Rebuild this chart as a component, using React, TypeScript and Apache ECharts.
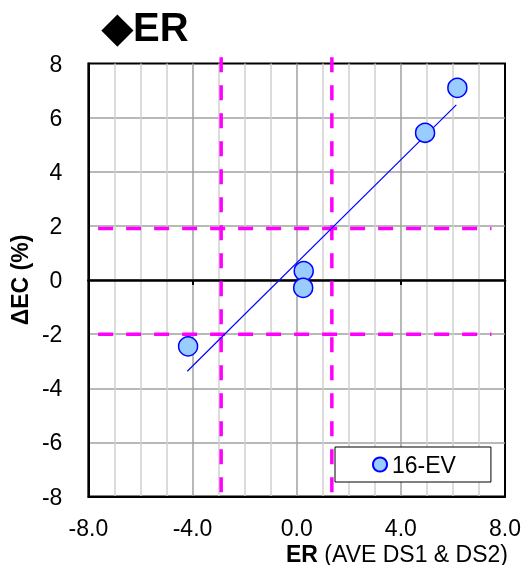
import React, { useEffect, useRef } from "react";
import * as echarts from "echarts";

const seriesName = "16-EV";
const pointsX = [6.17, 4.93, 0.27, 0.25, -4.17];
const pointsY = [7.1, 5.44, 0.33, -0.29, -2.45];
const trendX = [-4.2, 6.13];
const trendY = [-3.37, 6.47];
const thresholdX = [-2.9, 1.35];
const thresholdY = [1.9, -2.0];
const hLineSpanX = [-8.7, 7.48];
const vLineSpanY = [8.23, -8.17];
const axisMin = -8;
const axisMax = 8;

const FONT = "'Liberation Sans', Arial, sans-serif";

export default function App() {
  const ref = useRef<HTMLDivElement>(null);

  useEffect(() => {
    if (!ref.current) return;
    const chart = echarts.init(ref.current, undefined, { renderer: "svg" });

    const dashStyle = { color: "#ff00ff", width: 3.5, type: [15, 13] as any };
    const threshSeries: any[] = [];
    thresholdX.forEach((x, i) => {
      threshSeries.push({
        type: "line",
        name: "vline" + i,
        data: [[x, vLineSpanY[0]], [x, vLineSpanY[1]]],
        showSymbol: false,
        symbol: "none",
        clip: false,
        lineStyle: dashStyle,
        silent: true,
        z: 3,
      });
    });
    thresholdY.forEach((y, i) => {
      threshSeries.push({
        type: "line",
        name: "hline" + i,
        data: [[hLineSpanX[0], y], [hLineSpanX[1], y]],
        showSymbol: false,
        symbol: "none",
        clip: false,
        lineStyle: dashStyle,
        silent: true,
        z: 3,
      });
    });

    chart.setOption({
      animation: false,
      textStyle: { fontFamily: FONT },
      title: [
        {
          text: "◆ER",
          left: 97,
          top: 2,
          textStyle: { fontSize: 40, fontWeight: "bold", color: "#000", fontFamily: FONT },
        },
        {
          text: "{b|ER} (AVE DS1 & DS2)",
          right: 11,
          top: 537,
          textStyle: {
            fontSize: 23,
            fontWeight: "normal",
            color: "#000",
            fontFamily: FONT,
            rich: { b: { fontSize: 23, fontWeight: "bold", color: "#000", fontFamily: FONT } },
          },
        },
      ],
      grid: {
        left: 86.5,
        right: 18,
        top: 63.5,
        bottom: 68.5,
        show: true,
        borderColor: "#000",
        borderWidth: 2,
        backgroundColor: "transparent",
      },
      legend: {
        data: [seriesName],
        left: 335,
        top: 447,
        icon: "circle",
        itemWidth: 14,
        itemHeight: 14,
        backgroundColor: "#fff",
        borderColor: "#000",
        borderWidth: 1,
        borderRadius: 0,
        padding: [6, 35, 6, 37],
        textStyle: { fontSize: 23, color: "#000", fontFamily: FONT },
      },
      xAxis: [
        {
          type: "value",
          min: axisMin,
          max: axisMax,
          interval: 4,
          position: "bottom",
          axisLine: { show: true, onZero: false, lineStyle: { color: "#000", width: 2 } },
          axisTick: { show: false },
          axisLabel: {
            fontSize: 23,
            color: "#000",
            fontFamily: FONT,
            margin: 20,
            formatter: (v: number) => v.toFixed(1),
          },
          splitLine: { show: true, showMinLine: false, showMaxLine: false, lineStyle: { color: "#a0a0a0", width: 1.5 } },
          minorTick: { show: false, splitNumber: 4 },
          minorSplitLine: { show: true, lineStyle: { color: "#d0d0d0", width: 1.5 } },
        },
        {
          type: "value",
          min: axisMin,
          max: axisMax,
          interval: 4,
          position: "top",
          axisLine: { show: true, onZero: true, lineStyle: { color: "#000", width: 2.5 } },
          axisTick: { show: true, inside: true, length: 5, lineStyle: { color: "#000", width: 2 } },
          axisLabel: { show: false },
          splitLine: { show: false },
        },
      ],
      yAxis: {
        type: "value",
        min: axisMin,
        max: axisMax,
        interval: 2,
        name: "ΔEC (%)",
        nameLocation: "middle",
        nameRotate: 90,
        nameGap: 52,
        nameTextStyle: { fontSize: 23, fontWeight: "bold", color: "#000", fontFamily: FONT },
        axisLine: { show: true, onZero: false, lineStyle: { color: "#000", width: 2 } },
        axisTick: { show: false },
        axisLabel: { fontSize: 23, color: "#000", fontFamily: FONT, margin: 26 },
        splitLine: { show: true, showMinLine: false, showMaxLine: false, lineStyle: { color: "#a0a0a0", width: 1.5 } },
      },
      series: [
        ...threshSeries,
        {
          type: "line",
          name: "trend",
          data: trendX.map((x, i) => [x, trendY[i]]),
          showSymbol: false,
          symbol: "none",
          lineStyle: { color: "#0000ff", width: 1.2 },
          silent: true,
          z: 4,
        },
        {
          type: "scatter",
          name: seriesName,
          data: pointsX.map((x, i) => [x, pointsY[i]]),
          symbol: "circle",
          symbolSize: 19,
          itemStyle: { color: "#99ccff", borderColor: "#0000ff", borderWidth: 1.5, opacity: 1 },
          z: 5,
        },
      ],
    });

    return () => chart.dispose();
  }, []);

  return (
    <div
      ref={ref}
      style={{ position: "fixed", left: 0, top: 0, width: 524, height: 565 }}
    />
  );
}
